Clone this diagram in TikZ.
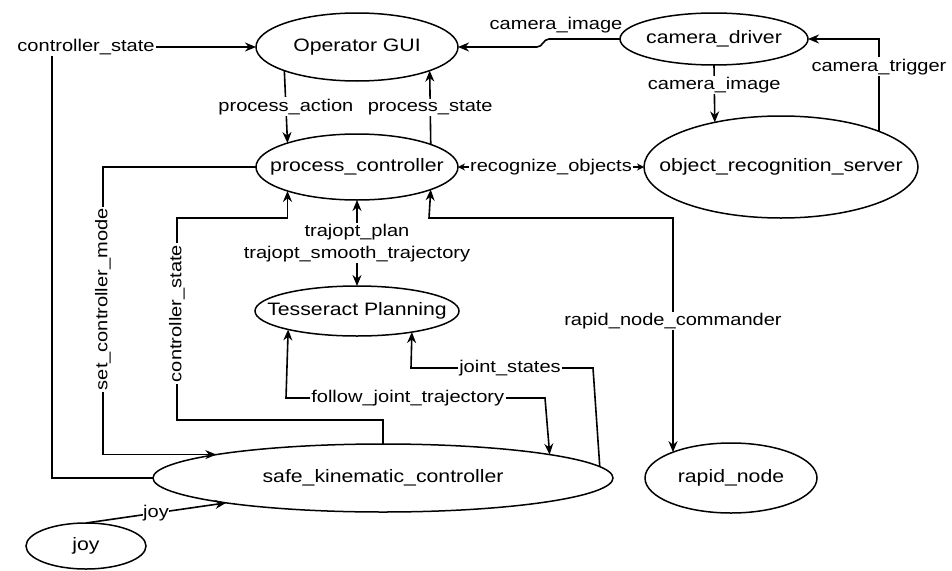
\documentclass[tikz,border=0pt]{standalone}
\usepackage{fontspec}
\setmainfont[FakeStretch=1.18]{Liberation Sans}
\usetikzlibrary{shapes.geometric,arrows.meta}

\newcommand\nodetextfont{\fontsize{18}{21}\selectfont}
\newcommand\edgetextfont{\fontsize{17}{21.7}\selectfont}

\begin{document}
\begin{tikzpicture}[x=1pt,y=-1pt,
  ell/.style={draw, ellipse, line width=1.5pt, inner sep=0pt, outer sep=0pt},
  ntext/.style={font=\nodetextfont, inner sep=0pt},
  elab/.style={font=\edgetextfont, fill=white, inner sep=1.5pt},
  conn/.style={line width=1.6pt},
  arr/.style={conn, -{Stealth[length=11pt,width=9pt]}},
  biarr/.style={conn, {Stealth[length=11pt,width=9pt]}-{Stealth[length=11pt,width=9pt]}},
  biarrsmall/.style={conn, {Stealth[length=7pt,width=7pt]}-{Stealth[length=7pt,width=7pt]}}
]
\fill[white] (0,0) rectangle (952,570);
\useasboundingbox (0,0) rectangle (952,570);

% nodes
\node[ell, minimum width=202pt, minimum height=68pt, label={[ntext]center:Operator GUI}] (og) at (357,47) {};
\node[ell, minimum width=202pt, minimum height=66pt, label={[ntext]center:process\_controller}] (pc) at (357,167) {};
\node[ell, minimum width=188pt, minimum height=52pt, label={[ntext]center:camera\_driver}] (cd) at (714,39) {};
\node[ell, minimum width=274pt, minimum height=102pt, label={[ntext]center:object\_recognition\_server}] (ors) at (781,167) {};
\node[ell, minimum width=204pt, minimum height=50pt, label={[ntext]center:Tesseract Planning}] (tp) at (357,311) {};
\node[ell, minimum width=460pt, minimum height=68pt, label={[ntext]center:safe\_kinematic\_controller}] (skc) at (383,478) {};
\node[ell, minimum width=172pt, minimum height=70pt, label={[ntext]center:rapid\_node}] (rn) at (731,478) {};
\node[ell, minimum width=120pt, minimum height=46pt, label={[ntext]center:joy}] (joy) at (86,546) {};

% controller state to the GUI
\draw[arr] (skc.west) -- (52,478) -- (52,47) -- (og.west);
\node[elab] (lcs) at (86,47) {controller\_state};

% GUI <-> process controller
\draw[arr] (og.198.8) -- node[elab] (lpa) {process\_action} (pc.161.7);
\draw[arr] (pc.17.8) -- node[elab] (lps) {process\_state} (og.-18.3);

% camera
\draw[arr] (cd.west) -- (549,39) to[out=180,in=0] (537,47) -- (og.east);
\node[font=\edgetextfont, inner sep=1pt] (lci) at (556,25) {camera\_image};
\draw[arr] (cd.south) -- node[elab, pos=0.35] (lci2) {camera\_image} (ors.146.4);
\draw[arr] (ors.20.4) |- node[elab, pos=0.35] (lct) {camera\_trigger} (cd.east);

% object recognition service
\draw[biarrsmall] (pc.east) -- node[elab] (lro) {recognize\_objects} (ors.west);

% controller mode
\draw[arr] (pc.west) -- (103,167) |- node[elab, rotate=90, pos=0.23] (lscm) {set\_controller\_mode} (skc.172.3);

% controller state to the process controller
\draw[arr] (skc.north) -- (383,420) -- (177,420) -- node[elab, rotate=90, pos=0.527] (lcs2) {controller\_state} (177,218) -| (pc.-161.7);

% planning services
\draw[biarr] (pc.south) -- node[elab, align=center] (ltp) {trajopt\_plan\\trajopt\_smooth\_trajectory} (tp.north);

% rapid node
\draw[biarr] (pc.-17.8) -- (429,218) -| node[elab, pos=0.72] (lrnc) {rapid\_node\_commander} (rn.156.6);

% trajectory execution
\draw[biarr] (tp.-165.8) -- (286,398) -- node[elab, pos=0.47] (lfjt) {follow\_joint\_trajectory} (545,398) -- (skc.8.46);
\draw[arr] (skc.3.79) -- (593,368) -- node[elab, pos=0.456] (ljs) {joint\_states} (411,368) -- (tp.-21.4);

% joystick
\draw[arr] (joy.north) -- node[elab, inner sep=0.5pt] (ljoy) {joy} (skc.-171.9);
\end{tikzpicture}
\end{document}
